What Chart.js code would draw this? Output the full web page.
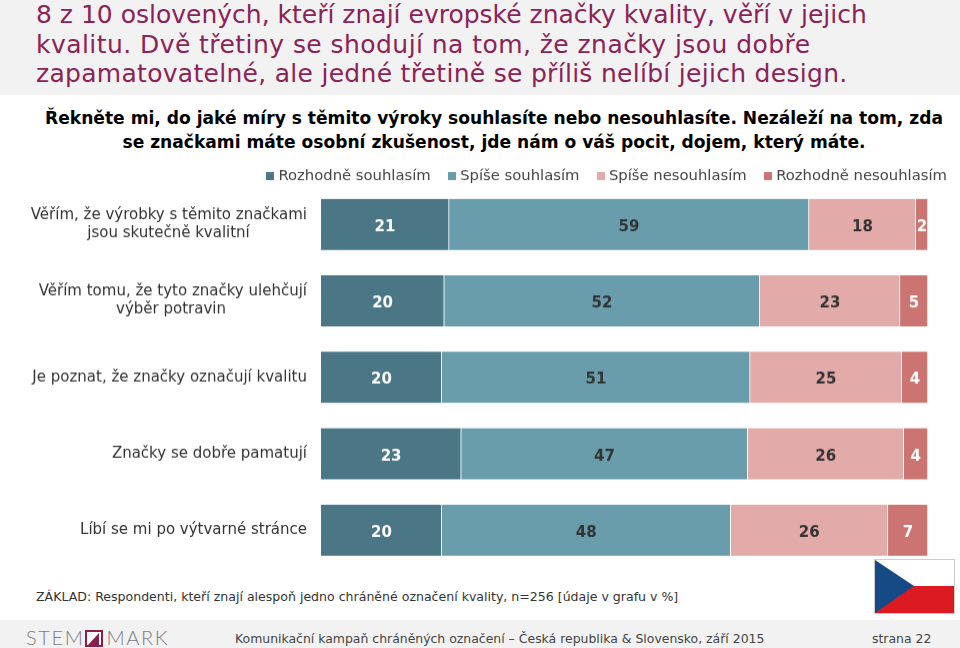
<!DOCTYPE html>
<html>
<head>
<meta charset="utf-8">
<script src="https://cdn.jsdelivr.net/npm/chart.js@4"></script>
<style>
  html, body { margin: 0; padding: 0; background: #fff; }
  body { width: 960px; height: 648px; position: relative; overflow: hidden; font-family: "DejaVu Sans", sans-serif; }
  #head { position: absolute; left: 0; top: 0; width: 960px; height: 95px; background: #f2f2f2; }
  #title { position: absolute; left: 36px; top: 0; font-size: 25px; line-height: 29.5px; color: #8c2257; white-space: nowrap; }
  #question { position: absolute; left: 0; top: 106px; width: 988px; text-align: center; font-size: 17.1px; font-weight: bold; line-height: 24px; color: #000; white-space: nowrap; }
  #chartBox { position: absolute; left: 0; top: 148px; width: 968px; height: 419.5px; }
  #base { position: absolute; left: 36px; top: 589px; font-size: 12.55px; color: #333; white-space: nowrap; }
  #flag { position: absolute; left: 874px; top: 559px; }
  #foot { position: absolute; left: 0; top: 620px; width: 960px; height: 28px; background: #f2f2f2; color: #444; font-size: 12.45px; }
  #foot span { position: absolute; top: 11px; white-space: nowrap; }
  #logo { position: absolute; left: 26px; top: 5px; font-family: Lato, sans-serif; font-weight: 300; font-size: 20px; line-height: 24px; color: #7d7d7d; letter-spacing: 1.6px; white-space: nowrap; }
  #logo svg { vertical-align: -2px; margin: 0 3px 0 1px; }
</style>
</head>
<body>
<div id="head"></div>
<div id="title">8 z 10 oslovených, kteří znají evropské značky kvality, věří v jejich<br><span style="letter-spacing:.44px">kvalitu. Dvě třetiny se shodují na tom, že značky jsou dobře</span><br><span style="letter-spacing:.29px">zapamatovatelné, ale jedné třetině se příliš nelíbí jejich design.</span></div>
<div id="question">Řekněte mi, do jaké míry s těmito výroky souhlasíte nebo nesouhlasíte. Nezáleží na tom, zda<br>se značkami máte osobní zkušenost, jde nám o váš pocit, dojem, který máte.</div>
<div id="chartBox"><canvas id="myChart"></canvas></div>
<div id="base">ZÁKLAD: Respondenti, kteří znají alespoň jedno chráněné označení kvality, n=256 [údaje v grafu v %]</div>
<svg id="flag" width="81" height="55" viewBox="0 0 81 55">
  <rect x="0.5" y="0.5" width="80" height="54" fill="#fff" stroke="#ccc"/>
  <rect x="1" y="27" width="79" height="27" fill="#dc1a22"/>
  <polygon points="1,1 40,27 1,54" fill="#154a85"/>
</svg>
<div id="foot">
  <div id="logo">STEM<svg width="18" height="17" viewBox="0 0 18 17"><rect x="1" y="1" width="16" height="15" fill="#fff" stroke="#8a2048" stroke-width="2"/><path d="M3 15 L14 3 L14 15 Z" fill="#8a2048"/></svg>MARK</div>
  <span style="left:235px">Komunikační kampaň chráněných označení – Česká republika &amp; Slovensko, září 2015</span>
  <span style="left:872px">strana 22</span>
</div>
<script>
// --- Data ---
const categories = [
  ["Věřím, že výrobky s těmito značkami", "jsou skutečně kvalitní"],
  ["Věřím tomu, že tyto značky ulehčují", "výběr potravin"],
  "Je poznat, že značky označují kvalitu",
  "Značky se dobře pamatují",
  "Líbí se mi po výtvarné stránce"
];
const seriesNames = ["Rozhodně souhlasím", "Spíše souhlasím", "Spíše nesouhlasím", "Rozhodně nesouhlasím"];
const strongAgree = [21.1, 20.3, 19.9, 23.1, 19.9];
const agree = [59.3, 52.0, 50.8, 47.2, 47.6];
const disagree = [17.6, 23.1, 25.0, 25.7, 25.9];
const strongDisagree = [2.0, 4.6, 4.3, 4.0, 6.6];
const barColors = ["#4b7685", "#6a9dac", "#e2aaa9", "#cb7472"];
const labelColors = ["#ffffff", "#333333", "#333333", "#ffffff"];

// Small square for the legend, the built-in box leaves too wide a gap before the text
function swatch(color) {
  const c = document.createElement("canvas");
  c.width = 8;
  c.height = 8;
  const g = c.getContext("2d");
  g.fillStyle = color;
  g.fillRect(0, 0, 8, 8);
  return c;
}

// Two-line labels are centred on each other, the axis only right-aligns them
const measure = document.createElement("canvas").getContext("2d");
measure.font = "15px 'DejaVu Sans'";
function centreLines(lines) {
  const widest = Math.max(...lines.map(l => measure.measureText(l).width));
  const nbsp = measure.measureText("\u00a0").width;
  return lines.map(l => l + "\u00a0".repeat(Math.round((widest - measure.measureText(l).width) / 2 / nbsp)));
}

// Legend sits closer to the bars than its padding allows
const tightLegend = {
  id: "tightLegend",
  beforeInit(chart) {
    const fit = chart.legend.fit;
    chart.legend.fit = function () {
      fit.call(this);
      this.height -= 7.6;
    };
  }
};

// Bold numbers centred in every bar segment
const barLabels = {
  id: "barLabels",
  afterDatasetsDraw(chart) {
    const ctx = chart.ctx;
    ctx.save();
    ctx.font = "bold 15px 'DejaVu Sans'";
    ctx.textAlign = "center";
    ctx.textBaseline = "middle";
    chart.data.datasets.forEach((ds, i) => {
      chart.getDatasetMeta(i).data.forEach((bar, j) => {
        const c = bar.getCenterPoint();
        ctx.fillStyle = labelColors[i];
        ctx.fillText(Math.round(ds.data[j]), c.x, c.y + 2.5);
      });
    });
    ctx.restore();
  }
};

new Chart(document.getElementById("myChart"), {
  type: "bar",
  data: {
    labels: categories.map(c => Array.isArray(c) ? centreLines(c) : c),
    datasets: [strongAgree, agree, disagree, strongDisagree].map((values, i) => ({
      label: seriesNames[i],
      data: values,
      backgroundColor: barColors[i],
      borderColor: "#ffffff",
      borderWidth: { right: 1 },
      barThickness: 51
    }))
  },
  plugins: [tightLegend, barLabels],
  options: {
    indexAxis: "y",
    responsive: true,
    maintainAspectRatio: false,
    animation: false,
    plugins: {
      tooltip: { enabled: false },
      legend: {
        position: "top",
        align: "end",
        labels: {
          usePointStyle: true,
          pointStyleWidth: 1,
          boxHeight: 8,
          padding: 21,
          color: "#444",
          font: { family: "DejaVu Sans", size: 14.8 },
          generateLabels: chart => chart.data.datasets.map((ds, i) => ({
            text: ds.label,
            fontColor: "#444",
            pointStyle: swatch(barColors[i]),
            datasetIndex: i
          }))
        }
      }
    },
    scales: {
      // the canvas runs past the bars so the legend can reach further right than they do
      x: { stacked: true, display: false, min: 0, max: 106.6 },
      y: {
        stacked: true,
        afterFit: axis => {
          axis.width = 321;
          axis.paddingTop = 0;
          axis.paddingBottom = 0;
        },
        grid: { display: false },
        border: { display: false },
        ticks: { color: "#333", padding: 6, font: { family: "DejaVu Sans", size: 15 } }
      }
    }
  }
});
</script>
</body>
</html>
